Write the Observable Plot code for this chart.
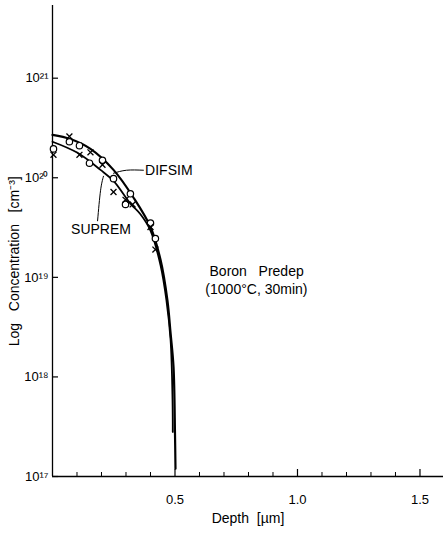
<!DOCTYPE html>
<html><head><meta charset="utf-8">
<script src="https://cdn.jsdelivr.net/npm/d3@7"></script>
<script src="https://cdn.jsdelivr.net/npm/@observablehq/plot@0.6"></script>
<style>body{margin:0;background:#fff}svg{font-family:"Liberation Sans",Arial,sans-serif}</style>
</head><body><div id="chart"></div>
<script>
// DIFSIM simulated profile (depth µm, concentration cm^-3)
const difsimDepth = [0, 0.073, 0.155, 0.249, 0.331, 0.40, 0.441, 0.469, 0.482, 0.494, 0.500, 0.502];
const difsimConc  = [2.7e20, 2.45e20, 1.95e20, 1.2e20, 6.3e19, 3.2e19, 1.5e19, 5.9e18, 2.75e18, 1.26e18, 2.7e17, 1.2e17];
// SUPREM simulated profile
const supremDepth = [0, 0.102, 0.196, 0.249, 0.318, 0.359, 0.40, 0.441, 0.465, 0.482, 0.490, 0.491];
const supremConc  = [2.3e20, 1.78e20, 1.2e20, 9.3e19, 5.5e19, 4.3e19, 2.95e19, 1.32e19, 5.9e18, 2.35e18, 5.8e17, 2.8e17];
// measured points (circles)
const circDepth = [0.004, 0.069, 0.11, 0.151, 0.204, 0.249, 0.318, 0.298, 0.40, 0.42];
const circConc  = [1.95e20, 2.3e20, 2.1e20, 1.4e20, 1.5e20, 9.8e19, 6.9e19, 5.4e19, 3.5e19, 2.45e19];
// measured points (crosses)
const crossDepth = [0.004, 0.069, 0.11, 0.155, 0.204, 0.249, 0.298, 0.327, 0.40, 0.42];
const crossConc  = [1.7e20, 2.6e20, 1.7e20, 1.8e20, 1.35e20, 7.2e19, 6.0e19, 5.4e19, 3.2e19, 1.9e19];
// tick values
const yTicks = [1e17, 1e18, 1e19, 1e20, 1e21];
const yTickLabels = ["10¹⁷", "10¹⁸", "10¹⁹", "10²⁰", "10²¹"];
const xMinorTicks = [0.1,0.2,0.3,0.4,0.6,0.7,0.8,0.9,1.1,1.2,1.3,1.4];
const xMajorTicks = [0.5, 1.0, 1.5];
const xTickLabels = ["0.5", "1.0", "1.5"];
// annotation leaders
const difsimLeaderDepth = [0.249, 0.302, 0.371];
const difsimLeaderConc = [1.11e20, 1.19e20, 1.19e20];
const supremLeaderDepth = [0.208, 0.196, 0.184];
const supremLeaderConc = [1.035e20, 7.4e19, 3.7e19];
const NB = "\u00a0";
const startLabels = [
  {text: "DIFSIM", x: 0.378, y: 1.19e20},
  {text: `Boron${NB}${NB}${NB}Predep`, x: 0.641, y: 1.15e19},
  {text: "(1000°C, 30min)", x: 0.624, y: 7.6e18}
];
const midLabels = [
  {text: "SUPREM", x: 0.198, y: 3.0e19}
];
const yTitle = [{text: `Log${NB}${NB}${NB}Concentration${NB}${NB}${NB}[cm⁻³]`, y: 1.45e19}];
const xTitle = `Depth${NB}${NB}[µm]`;

const zip = (xs, ys) => xs.map((x, i) => ({x, y: ys[i]}));
const yLabelOf = d => yTickLabels[yTicks.findIndex(t => Math.abs(Math.log10(t) - Math.log10(d)) < 1e-6)];
const xLabelOf = d => xTickLabels[xMajorTicks.findIndex(t => Math.abs(t - d) < 1e-9)];

const chart = Plot.plot({
  width: 443, height: 534,
  marginLeft: 52, marginTop: 5, marginBottom: 58, marginRight: 0,
  style: {fontFamily: '"Liberation Sans", Arial, sans-serif', background: "#fff", color: "#000"},
  x: {domain: [0, 1.596]},
  y: {type: "log", domain: [1e17, 10 ** 21.73]},
  marks: [
    Plot.ruleX([0], {stroke: "#000", strokeWidth: 1.3}),
    Plot.ruleY([1e17], {stroke: "#000", strokeWidth: 1.3}),
    Plot.axisY({ticks: yTicks, tickSize: -6, tickFormat: () => "", label: null, stroke: "#000", strokeWidth: 1.2}),
    Plot.axisY({ticks: yTicks, tickSize: 0, tickPadding: 4, tickFormat: yLabelOf, fontSize: 13, fill: "#000", label: null}),
    Plot.text(yTitle, {y: "y", text: "text", frameAnchor: "left", textAnchor: "middle", lineAnchor: "middle", dx: -38, rotate: -90, fontSize: 14, fill: "#000"}),
    Plot.axisX({ticks: xMinorTicks, tickSize: -4, tickFormat: () => "", label: null, stroke: "#000"}),
    Plot.axisX({ticks: xMajorTicks, tickSize: -7, tickFormat: () => "", label: null, stroke: "#000", strokeWidth: 1.2}),
    Plot.axisX({ticks: xMajorTicks, tickSize: 0, tickPadding: 18, tickFormat: xLabelOf, fontSize: 13, fill: "#000", label: null}),
    Plot.axisX({ticks: [], label: xTitle, labelAnchor: "center", labelOffset: 46, labelArrow: "none", fontSize: 14, fill: "#000"}),
    Plot.line(zip(difsimDepth, difsimConc), {x: "x", y: "y", curve: "catmull-rom", stroke: "#000", strokeWidth: 2.2}),
    Plot.line(zip(supremDepth, supremConc), {x: "x", y: "y", curve: "catmull-rom", stroke: "#000", strokeWidth: 1.8}),
    Plot.line(zip(difsimLeaderDepth, difsimLeaderConc), {x: "x", y: "y", curve: "natural", stroke: "#000", strokeWidth: 1}),
    Plot.line(zip(supremLeaderDepth, supremLeaderConc), {x: "x", y: "y", curve: "natural", stroke: "#000", strokeWidth: 1}),
    Plot.dot(zip(circDepth, circConc), {x: "x", y: "y", r: 3.2, stroke: "#000", fill: "#fff", strokeWidth: 1.2}),
    Plot.dot(zip(crossDepth, crossConc), {x: "x", y: "y", symbol: "times", r: 2.8, stroke: "#000", strokeWidth: 1.3}),
    Plot.text(startLabels, {x: "x", y: "y", text: "text", textAnchor: "start", fontSize: 14, fill: "#000"}),
    Plot.text(midLabels, {x: "x", y: "y", text: "text", textAnchor: "middle", fontSize: 14, fill: "#000"})
  ]
});
document.getElementById("chart").append(chart);
</script></body></html>
